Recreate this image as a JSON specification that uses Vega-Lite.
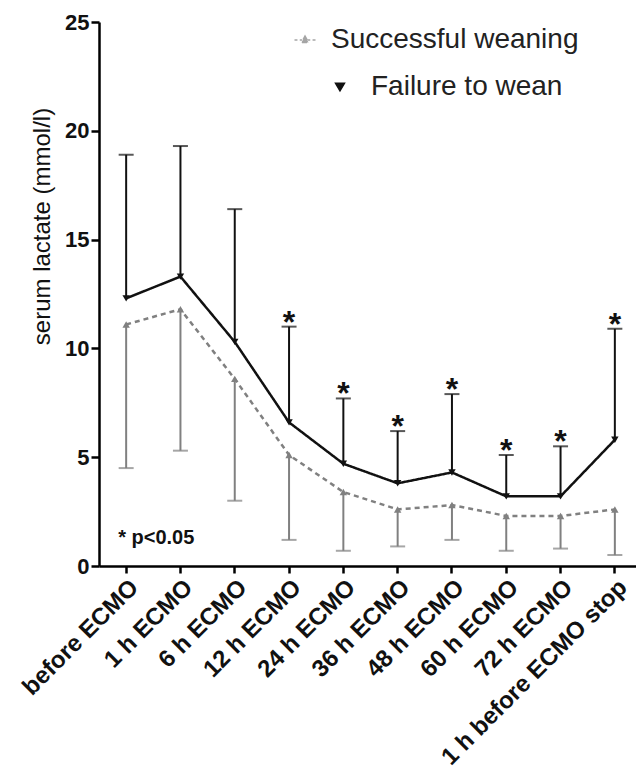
{
  "$schema": "https://vega.github.io/schema/vega-lite/v6.json",
  "width": 537,
  "height": 544,
  "autosize": {"type": "none"},
  "padding": {"left": 99, "top": 22, "right": 0, "bottom": 203},
  "background": "white",
  "config": {
    "view": {"stroke": null},
    "font": "Liberation Sans",
    "axis": {"grid": false, "domainColor": "#000", "domainWidth": 2.5, "tickColor": "#000", "tickWidth": 2.5, "labelColor": "#111", "labelFontWeight": "bold", "titleColor": "#111"}
  },
  "datasets": {
    "d": [
      {"t": "before ECMO", "g": "Failure to wean", "g2": "Failure to wean", "m": 12.3, "e": 18.9, "s": ""},
      {"t": "1 h ECMO", "g": "Failure to wean", "g2": "Failure to wean", "m": 13.3, "e": 19.3, "s": ""},
      {"t": "6 h ECMO", "g": "Failure to wean", "g2": "Failure to wean", "m": 10.3, "e": 16.4, "s": ""},
      {"t": "12 h ECMO", "g": "Failure to wean", "g2": "Failure to wean", "m": 6.6, "e": 11.0, "s": "*"},
      {"t": "24 h ECMO", "g": "Failure to wean", "g2": "Failure to wean", "m": 4.7, "e": 7.7, "s": "*"},
      {"t": "36 h ECMO", "g": "Failure to wean", "g2": "Failure to wean", "m": 3.8, "e": 6.2, "s": "*"},
      {"t": "48 h ECMO", "g": "Failure to wean", "g2": "Failure to wean", "m": 4.3, "e": 7.9, "s": "*"},
      {"t": "60 h ECMO", "g": "Failure to wean", "g2": "Failure to wean", "m": 3.2, "e": 5.1, "s": "*"},
      {"t": "72 h ECMO", "g": "Failure to wean", "g2": "Failure to wean", "m": 3.2, "e": 5.5, "s": "*"},
      {"t": "1 h before ECMO stop", "g": "Failure to wean", "g2": "Failure to wean", "m": 5.8, "e": 10.9, "s": "*"},
      {"t": "before ECMO", "g": "Successful weaning", "g2": "Successful weaning", "m": 11.1, "e": 4.5, "s": ""},
      {"t": "1 h ECMO", "g": "Successful weaning", "g2": "Successful weaning", "m": 11.8, "e": 5.3, "s": ""},
      {"t": "6 h ECMO", "g": "Successful weaning", "g2": "Successful weaning", "m": 8.6, "e": 3.0, "s": ""},
      {"t": "12 h ECMO", "g": "Successful weaning", "g2": "Successful weaning", "m": 5.1, "e": 1.2, "s": ""},
      {"t": "24 h ECMO", "g": "Successful weaning", "g2": "Successful weaning", "m": 3.4, "e": 0.7, "s": ""},
      {"t": "36 h ECMO", "g": "Successful weaning", "g2": "Successful weaning", "m": 2.6, "e": 0.9, "s": ""},
      {"t": "48 h ECMO", "g": "Successful weaning", "g2": "Successful weaning", "m": 2.8, "e": 1.2, "s": ""},
      {"t": "60 h ECMO", "g": "Successful weaning", "g2": "Successful weaning", "m": 2.3, "e": 0.7, "s": ""},
      {"t": "72 h ECMO", "g": "Successful weaning", "g2": "Successful weaning", "m": 2.3, "e": 0.8, "s": ""},
      {"t": "1 h before ECMO stop", "g": "Successful weaning", "g2": "Successful weaning", "m": 2.6, "e": 0.5, "s": ""}
    ],
    "note": [{"t": "before ECMO", "y": 1.29, "label": "* p<0.05"}]
  },
  "data": {"name": "d"},
  "encoding": {
    "x": {
      "field": "t", "type": "nominal", "sort": null,
      "scale": {"paddingInner": 0, "paddingOuter": 0, "range": [0, 543]},
      "axis": {"title": null, "labelAngle": -45, "labelFontSize": 24, "tickSize": 7, "labelPadding": 2, "labelLimit": 400}
    }
  },
  "layer": [
    {
      "mark": {"type": "rule", "strokeWidth": 2},
      "encoding": {
        "y": {"field": "m", "type": "quantitative", "scale": {"domain": [0, 25], "padding": 0, "nice": false},
          "axis": {"values": [0, 5, 10, 15, 20, 25], "title": "serum lactate (mmol/l)", "titleFontSize": 24, "titleFontWeight": "normal", "labelFontSize": 22, "tickSize": 8, "titlePadding": 10, "labelPadding": 2, "titleY": 204}},
        "y2": {"field": "e"},
        "color": {"field": "g", "type": "nominal", "title": null,
          "scale": {"domain": ["Successful weaning", "Failure to wean"], "range": ["#808080", "#111111"]},
          "legend": {"orient": "none", "legendX": 192, "legendY": 4, "values": ["Successful weaning"], "labelFontSize": 28, "labelColor": "#222", "labelFontWeight": "normal", "symbolSize": 441, "symbolType": "M-1,0H-0.72M-0.5,0H-0.28M0.28,0H0.5M0.72,0H1M0,-0.38L0.34,0.24L-0.34,0.24Z", "symbolStrokeWidth": 1.5, "symbolFillColor": "#808080", "symbolStrokeColor": "#808080", "labelOffset": 12, "labelLimit": 400}}
      }
    },
    {
      "mark": {"type": "tick", "thickness": 2, "size": 15},
      "encoding": {
        "y": {"field": "e", "type": "quantitative"},
        "color": {"field": "g", "type": "nominal"}
      }
    },
    {
      "mark": {"type": "line", "strokeWidth": 2.5},
      "encoding": {
        "y": {"field": "m", "type": "quantitative"},
        "color": {"field": "g", "type": "nominal"},
        "strokeDash": {"field": "g", "type": "nominal",
          "scale": {"domain": ["Successful weaning", "Failure to wean"], "range": [[5, 4], [1, 0]]},
          "legend": null}
      }
    },
    {
      "mark": {"type": "point", "filled": true, "opacity": 1},
      "encoding": {
        "y": {"field": "m", "type": "quantitative"},
        "color": {"field": "g", "type": "nominal"},
        "shape": {"field": "g2", "type": "nominal", "title": null,
          "scale": {"domain": ["Failure to wean", "Successful weaning"], "range": ["triangle-down", "triangle-up"]},
          "legend": {"orient": "none", "legendX": 227, "legendY": 51, "values": ["Failure to wean"], "labelFontSize": 28, "labelColor": "#222", "labelFontWeight": "normal", "symbolSize": 80, "symbolFillColor": "#111", "symbolStrokeColor": "#111", "labelOffset": 17, "labelLimit": 400}},
        "size": {"value": 55}
      }
    },
    {
      "mark": {"type": "text", "fontSize": 32, "fontWeight": "bold", "baseline": "alphabetic", "dy": 6, "color": "#111"},
      "encoding": {
        "y": {"field": "e", "type": "quantitative"},
        "text": {"field": "s"}
      }
    },
    {
      "data": {"name": "note"},
      "mark": {"type": "text", "fontSize": 20, "fontWeight": "bold", "align": "left", "baseline": "middle", "dx": -8, "color": "#111"},
      "encoding": {
        "y": {"field": "y", "type": "quantitative"},
        "text": {"field": "label"}
      }
    }
  ]
}
